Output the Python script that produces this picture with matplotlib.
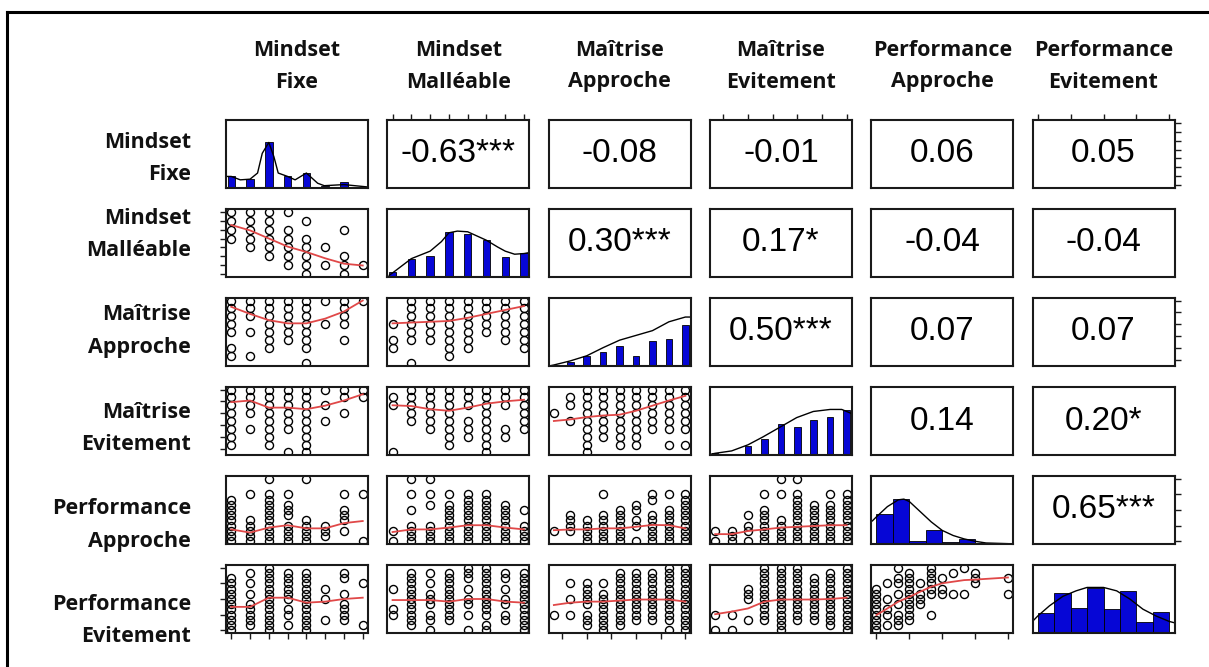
import numpy as np
import matplotlib.pyplot as plt
from matplotlib.lines import Line2D

# variables (two-line labels)
names = [("Mindset", "Fixe"), ("Mindset", "Malléable"), ("Maîtrise", "Approche"),
         ("Maîtrise", "Evitement"), ("Performance", "Approche"), ("Performance", "Evitement")]

# number of distinct levels per variable (positions are level indices)
n_levels = [8, 8, 9, 9, 13, 13]
tick_pos = [list(range(8)), list(range(8)), [0.5, 2, 3.5, 5, 6.5, 8],
            [0.5, 2, 3.5, 5, 6.5, 8], [0, 3, 6, 9, 12], [0, 3, 6, 9, 12]]

# histograms (bar heights in % of panel height)
hist_mf = [17, 13, 67, 17, 22, 2.5, 9, 1.5]
hist_mm = [7, 27, 31, 66, 63, 54, 29, 35]
hist_ma = [2, 6.5, 15, 20, 30, 15, 37, 40, 60]
hist_me = [2.5, 1.5, 13, 23, 46, 41, 51, 56, 66]
hist_pa = [44, 66, 5, 21, 2.5, 7.5, 1, 0]
hist_pe = [29, 59, 37, 66, 36, 62, 16, 31]
hist_bins = [None, None, None, None, np.arange(0, 12.1, 1.5), np.arange(0, 12.1, 1.5)]

# density curves (x in level units, y in % of panel height)
dens_mf = ([-0.27, 0, 0.48, 1, 1.4, 1.65, 2, 2.27, 2.5, 3, 3.4, 4, 4.6, 4.95, 6, 7.27],
           [17, 17, 12, 13, 22, 51, 67, 46, 22, 17, 12, 22, 7, 3.4, 5, 1.5])
dens_mm = ([-0.18, 0, 1, 2, 2.6, 3, 3.45, 4, 5, 5.6, 6, 6.5, 7, 7.2],
           [2.5, 6, 27, 38, 52, 65, 67.5, 66.5, 54, 44, 38, 33.5, 34.5, 35.5])
dens_ma = ([-0.3, 0, 1, 2, 3, 4, 5, 6, 7, 8, 8.3],
           [0, 1.5, 7.5, 15, 27, 38, 45, 52, 65, 72, 72])
dens_me = ([-0.3, 0, 1, 2, 2.9, 3.95, 4.96, 5.97, 7, 7.7, 8.3],
           [1, 2.5, 6, 15, 26.5, 41, 55, 64, 67, 67, 61])
dens_pa = ([-0.37, 0, 1, 2, 2.5, 3, 4, 5, 6, 7, 8, 9, 10, 12, 12.48],
           [34, 40, 55, 65, 66, 62.5, 47.5, 32.5, 20, 12.5, 7.5, 4, 1.5, 0.5, 0])
dens_pe = ([-0.48, 0, 1.07, 2.3, 3.5, 4.5, 6, 7.2, 8.4, 9.6, 10.8, 12, 12.48],
           [17, 25, 40, 54, 62, 67, 67, 62, 50, 35, 25, 17, 15])
hists = [hist_mf, hist_mm, hist_ma, hist_me, hist_pa, hist_pe]
denss = [dens_mf, dens_mm, dens_ma, dens_me, dens_pa, dens_pe]

# correlations (upper triangle)
corr = {(0, 1): (-0.63, "***"), (0, 2): (-0.08, ""), (0, 3): (-0.01, ""), (0, 4): (0.06, ""),
        (0, 5): (0.05, ""), (1, 2): (0.30, "***"), (1, 3): (0.17, "*"), (1, 4): (-0.04, ""),
        (1, 5): (-0.04, ""), (2, 3): (0.50, "***"), (2, 4): (0.07, ""), (2, 5): (0.07, ""),
        (3, 4): (0.14, ""), (3, 5): (0.20, "*"), (4, 5): (0.65, "***")}

# scatter points: for each x level, the y levels observed
pts = {
    (1, 0): [[7, 6, 5, 4], [7, 6, 5, 4, 3], [7, 6, 5, 4, 3, 2], [7, 5, 4, 3, 2, 1],
             [6, 4, 3, 2, 1, 0], [3, 1], [5, 2, 1, 0], [1]],
    (2, 0): [[8, 7, 6, 5, 4, 2, 1], [8, 7, 6, 4, 1], [8, 7, 6, 5, 4, 3, 2], [8, 7, 6, 5, 4, 3],
             [8, 7, 6, 5, 4, 3, 2, 0], [8, 5], [8, 7, 6, 5, 3], [8]],
    (2, 1): [[5, 3, 2], [8, 7, 6, 5, 4, 3, 0], [8, 7, 6, 5, 4, 3], [8, 7, 6, 5, 4, 3, 2, 1],
             [8, 7, 6, 5, 4, 3, 2], [8, 7, 6, 5, 4], [8, 7, 6, 5, 4, 3], [8, 7, 6, 5, 4, 3, 2]],
    (3, 0): [[8, 7, 6, 5, 4, 3, 2, 1], [8, 7, 6, 5, 3], [8, 7, 6, 5, 4, 3, 2, 1], [8, 7, 6, 5, 4, 3, 0],
             [8, 7, 6, 5, 4, 3, 2, 1, 0], [8, 6, 4], [8, 7, 5], [8, 7]],
    (3, 1): [[7, 6, 0], [8, 7, 6, 5, 4], [8, 7, 6, 5, 4, 3], [8, 7, 6, 5, 4, 3, 2, 1],
             [8, 7, 6, 4, 3, 2], [8, 7, 6, 5, 4, 3, 2, 1, 0], [8, 7, 6, 3, 2], [8, 7, 6, 5, 4, 3]],
    (3, 2): [[5], [7, 6, 4], [8, 7, 6, 5, 4, 3, 2, 1, 0], [8, 7, 6, 5, 4, 3, 2], [8, 7, 6, 5, 4, 3, 2, 1],
             [8, 7, 6, 5, 4, 3, 2, 1], [8, 7, 6, 5, 4, 3], [8, 7, 6, 5, 4, 3, 1], [8, 7, 6, 5, 4, 3, 1]],
    (4, 0): [[8, 7, 6, 5, 4, 3, 2, 1, 0], [9, 4, 3, 2, 1, 0], [12, 9, 8, 7, 6, 5, 4, 3, 2, 1, 0],
             [9, 7, 6, 5, 3, 2, 1, 0], [12, 4, 3, 2, 1, 0], [3, 2, 1], [9, 6, 5, 4, 2], [9, 0]],
    (4, 1): [[2, 0], [12, 9, 6, 3, 2, 1, 0], [12, 9, 7, 3, 2, 1, 0], [9, 7, 6, 5, 4, 3, 2, 1, 0],
             [9, 8, 7, 6, 5, 4, 3, 2, 1, 0], [9, 8, 7, 6, 5, 4, 3, 2, 1, 0], [7, 6, 5, 4, 3, 2, 1, 0],
             [6, 3, 2, 1, 0]],
    (4, 2): [[2], [5, 4, 3, 2], [4, 3, 2, 1, 0], [9, 5, 4, 3, 2, 1, 0], [6, 5, 4, 3, 2, 1, 0],
             [7, 6, 4, 3, 0], [9, 8, 5, 4, 3, 2, 1, 0], [9, 6, 5, 4, 3, 2, 1, 0],
             [9, 8, 7, 6, 5, 4, 3, 2, 1, 0]],
    (4, 3): [[2, 0], [2, 1, 0], [5, 3, 2, 0], [9, 6, 5, 4, 3, 2, 1, 0], [12, 9, 4, 3, 2, 1, 0],
             [12, 9, 8, 7, 6, 5, 4, 3, 2, 1, 0], [7, 6, 5, 4, 3, 2, 1, 0], [9, 7, 6, 5, 4, 3, 2, 1, 0],
             [9, 8, 7, 6, 5, 4, 3, 2, 1, 0]],
    (5, 0): [[10, 9, 8, 7, 6, 5, 4, 3, 2, 1, 0], [11, 9, 7, 5, 4, 3, 2, 1],
             [12, 11, 10, 9, 8, 7, 6, 5, 4, 3, 2, 1, 0], [11, 10, 9, 8, 7, 6, 4, 3, 1],
             [11, 10, 9, 8, 7, 6, 5, 4, 3, 2, 1, 0], [8, 6, 2], [11, 10, 7, 5, 4, 3, 2], [9, 1]],
    (5, 1): [[8, 4, 3], [11, 10, 9, 8, 7, 6, 5, 4, 3, 2, 1], [11, 9, 7, 6, 5, 3, 2, 0],
             [11, 10, 9, 8, 7, 6, 5, 4, 3, 2], [12, 11, 10, 8, 6, 5, 3, 0],
             [12, 11, 10, 9, 8, 7, 6, 5, 4, 3, 1, 0], [11, 10, 8, 6, 5, 3, 2],
             [11, 10, 9, 8, 7, 6, 5, 4, 3, 2, 1, 0]],
    (5, 2): [[3], [9, 6, 3], [9, 8, 7, 6, 5, 3, 2, 1], [9, 7, 6, 5, 4, 3, 2, 1, 0],
             [11, 10, 9, 8, 7, 6, 5, 4, 3, 2, 1], [11, 10, 9, 8, 7, 6, 5, 4, 3, 2],
             [11, 10, 9, 8, 7, 6, 5, 4, 3, 2], [12, 11, 10, 9, 8, 7, 6, 5, 4, 3, 2, 0],
             [12, 11, 10, 9, 8, 7, 6, 5, 4, 3, 2, 1, 0]],
    (5, 3): [[3, 0], [3, 0], [8, 7, 6, 2], [12, 11, 10, 9, 8, 7, 6, 5, 4, 3, 2],
             [12, 11, 10, 9, 8, 7, 6, 5, 4, 3, 2, 1, 0], [12, 11, 10, 9, 8, 7, 6, 5, 4, 3, 2],
             [10, 9, 8, 7, 6, 5, 4, 3, 2], [11, 10, 9, 8, 7, 6, 5, 4, 3, 2, 1],
             [12, 11, 10, 9, 8, 7, 6, 5, 4, 3, 2, 1, 0]],
    (5, 4): [[8, 7, 6, 5, 4, 3, 2, 1, 0], [9, 6, 4, 3, 1], [12, 10, 9, 7, 5, 3, 2, 1],
             [11, 10, 9, 8, 7, 6, 5, 4, 3, 2], [9, 7, 6, 5], [12, 11, 10, 9, 8, 7, 3], [10, 8, 7],
             [11, 7], [12, 7], [11, 10, 9], [], [], [10, 7]],
}

# smoother (red line): y per x level, None where no data
smooth = {
    (1, 0): [5.5, 4.9, 4.0, 3.1, 2.5, 1.8, 1.2, 1.0],
    (2, 0): [7.2, 6.3, 5.5, 5.1, 5.1, 5.7, 6.6, 8.0],
    (2, 1): [5.1, 5.2, 5.3, 5.4, 5.8, 6.3, 6.8, 7.3],
    (3, 0): [6.4, 6.6, 5.7, 5.7, 5.5, 5.95, 6.6, 7.4],
    (3, 1): [6.0, 5.9, 5.5, 5.3, 5.7, 6.2, 6.5, 6.7],
    (3, 2): [4.0, 4.2, 4.5, 4.7, 4.8, 5.3, 5.95, 6.6, 7.2],
    (4, 0): [2.3, 1.7, 2.65, 3.1, 2.5, 2.5, 3.5, 3.9],
    (4, 1): [1.8, 2.3, 2.3, 2.65, 3.1, 3.1, 2.65, 2.3],
    (4, 2): [2.15, 2.3, 2.3, 2.5, 2.5, 2.8, 3.15, 3.1, 2.5],
    (4, 3): [1.4, 1.4, 2.0, 2.3, 2.65, 2.8, 2.95, 3.1, 3.1],
    (5, 0): [4.5, 4.5, 6.25, 6.25, 5.3, 5.5, 6.0, 6.25],
    (5, 1): [5.8, 5.8, 5.8, 5.5, 6.0, 6.0, 5.5, 5.3],
    (5, 2): [4.85, 5.3, 5.5, 5.5, 5.7, 5.9, 5.9, 5.9, 5.5],
    (5, 3): [3.1, 3.6, 4.2, 5.5, 5.9, 5.9, 5.9, 6.0, 6.25],
    (5, 4): [2.95, 4.2, 5.5, 6.4, 7.4, 8.35, 9.0, 9.3, 9.6, 9.7, None, None, 10.1],
}

W, H = 1209, 667
fig = plt.figure(figsize=(W / 100, H / 100), dpi=100)

x0, dx, pw = 226, 161.3, 142
y0, dy, ph = 120, 89, 68
bar_col = "#0606d6"


def pad(n):
    span = n - 1
    return -0.04 * span, span * 1.04


for r in range(6):
    for c in range(6):
        left = x0 + c * dx
        top = y0 + r * dy
        ax = fig.add_axes([left / W, 1 - (top + ph) / H, pw / W, ph / H])
        ax.set_xlim(pad(n_levels[c]))
        for s in ax.spines.values():
            s.set_linewidth(1.5)
            s.set_color("#1a1a1a")
        if r == c:
            ax.set_ylim(0, 100)
            h = hists[r]
            if hist_bins[r] is None:
                ax.bar(np.arange(len(h)), h, width=0.4, color=bar_col,
                       edgecolor="black", linewidth=0.6)
            else:
                e = hist_bins[r]
                ax.bar(e[:-1], h, width=np.diff(e), align="edge", color=bar_col,
                       edgecolor="black", linewidth=0.6)
            dxs, dys = denss[r]
            ax.plot(dxs, dys, color="black", lw=1.0)
        else:
            ax.set_ylim(pad(n_levels[r]))
            if r < c:
                val, st = corr[(r, c)]
                ax.text(0.5, 0.5, f"{val:.2f}{st}", transform=ax.transAxes,
                        ha="center", va="center", fontsize=24,
                        family="Liberation Sans", color="black")
            else:
                cols = pts[(r, c)]
                xs = [i for i, ys in enumerate(cols) for _ in ys]
                ys = [y for col in cols for y in col]
                ax.plot(xs, ys, "o", mfc="none", mec="black", ms=5.8, mew=1.0)
                sm = smooth[(r, c)]
                sx = [i for i, v in enumerate(sm) if v is not None]
                sy = [v for v in sm if v is not None]
                ax.plot(sx, sy, color="#e04848", lw=1.3)
        ax.set_xticks([])
        ax.set_yticks([])
        ax.tick_params(length=4, width=1, color="#1a1a1a",
                       labelbottom=False, labeltop=False, labelleft=False, labelright=False)
        if r == 5 and c % 2 == 0:
            ax.set_xticks(tick_pos[c])
            ax.tick_params(axis="x", bottom=True, top=False)
        if r == 0 and c % 2 == 1:
            ax.set_xticks(tick_pos[c])
            ax.tick_params(axis="x", top=True, bottom=False)
        if c == 0 and r % 2 == 1:
            ax.set_yticks(tick_pos[r])
            ax.tick_params(axis="y", left=True, right=False)
        if c == 5 and r % 2 == 0:
            ax.set_yticks(tick_pos[r])
            ax.tick_params(axis="y", right=True, left=False)

# column headers
lab_font = dict(family="Open Sans", fontweight="bold", fontsize=15.5, color="#111111")
for c, (a, b) in enumerate(names):
    cx = (x0 + c * dx + pw / 2) / W
    fig.text(cx, 1 - 51 / H, a, ha="center", va="center", **lab_font)
    fig.text(cx, 1 - 82 / H, b, ha="center", va="center", **lab_font)

# row labels
row_y = [159, 235, 331, 428, 525, 621]
for r, (a, b) in enumerate(names):
    fig.text(191 / W, 1 - (row_y[r] - 16) / H, a, ha="right", va="center", **lab_font)
    fig.text(191 / W, 1 - (row_y[r] + 16) / H, b, ha="right", va="center", **lab_font)

# outer frame (partly cut off)
fig.add_artist(Line2D([7 / W, 7 / W], [0, 1 - 12 / H], transform=fig.transFigure,
                      color="black", lw=2.2))
fig.add_artist(Line2D([7 / W, 1], [1 - 12 / H, 1 - 12 / H], transform=fig.transFigure,
                      color="black", lw=2.2))

fig.savefig("out.png", dpi=100, facecolor="white")
